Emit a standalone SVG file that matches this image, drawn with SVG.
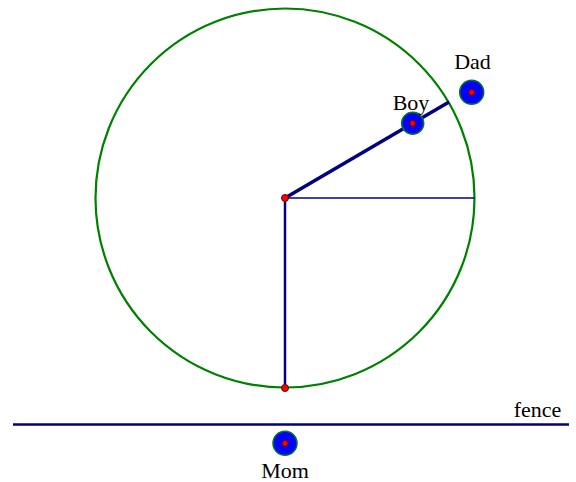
<svg xmlns="http://www.w3.org/2000/svg" width="576" height="482" viewBox="0 0 576 482">
<style>
.lbl{font-family:"Liberation Serif","Times New Roman",serif;font-size:22px;fill:#000}
.seg{stroke:#000080;fill:none;stroke-linecap:butt}
.pt{fill:#ff0000;stroke:#600000;stroke-width:1}
.person{fill:#0000ff;stroke:#007a20;stroke-width:1.5}
</style>
<rect width="576" height="482" fill="#fff"/>
<g id="circle"><circle cx="285" cy="198" r="189.5" fill="none" stroke="#008000" stroke-width="2.2"/></g>
<g id="connectors">
<line class="seg" x1="285" y1="198" x2="474.5" y2="198" stroke-width="1.3"/>
<line class="seg" x1="285" y1="198" x2="285" y2="388" stroke-width="2.5"/>
<line class="seg" x1="285" y1="198" x2="449" y2="102" stroke-width="3.5"/>
<line class="seg" x1="13" y1="424.5" x2="569" y2="424.5" stroke-width="2.5"/>
</g>
<g id="center"><circle class="pt" cx="285" cy="198" r="3.5"/></g>
<g id="bottom"><circle class="pt" cx="285" cy="388" r="3.5"/></g>
<g id="boy"><circle class="person" cx="412.7" cy="123.3" r="11"/><circle class="pt" cx="412.7" cy="123.3" r="3"/><text class="lbl" x="411" y="110" text-anchor="middle">Boy</text></g>
<g id="dad"><circle class="person" cx="471.7" cy="92.3" r="12"/><circle class="pt" cx="471.7" cy="92.3" r="3"/><text class="lbl" x="472.5" y="69" text-anchor="middle">Dad</text></g>
<g id="mom"><circle class="person" cx="285" cy="443.3" r="12"/><circle class="pt" cx="285" cy="443.3" r="3"/><text class="lbl" x="285" y="477.5" text-anchor="middle">Mom</text></g>
<g id="fence"><text class="lbl" x="537.5" y="416.5" text-anchor="middle">fence</text></g>
</svg>
